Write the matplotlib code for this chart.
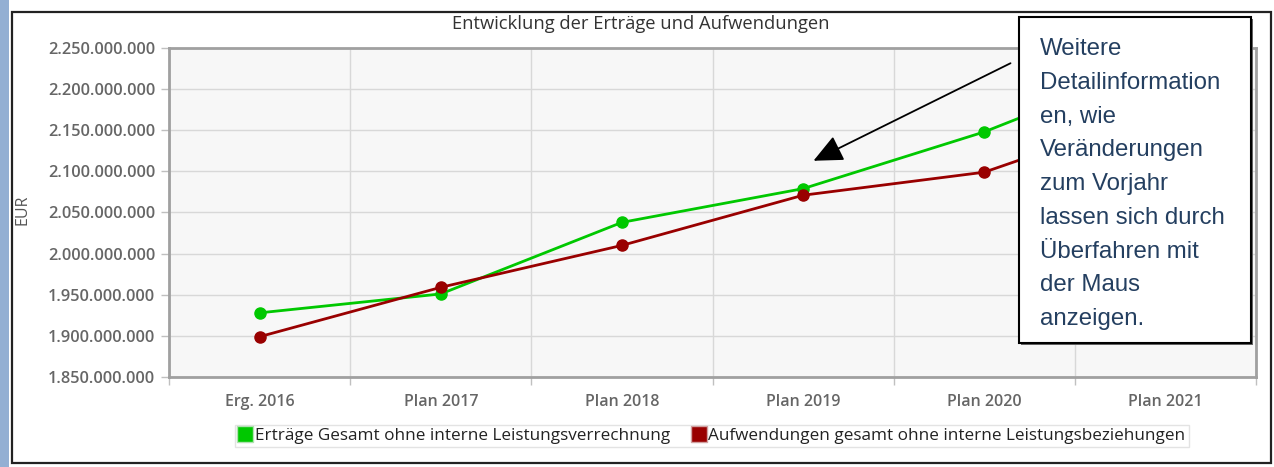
import matplotlib
matplotlib.use("Agg")
import matplotlib.pyplot as plt
from matplotlib.patches import Rectangle, FancyArrowPatch
from matplotlib.lines import Line2D
from matplotlib.ticker import FuncFormatter, MultipleLocator, FixedLocator

categories = ['Erg. 2016', 'Plan 2017', 'Plan 2018', 'Plan 2019', 'Plan 2020', 'Plan 2021']
ertraege = [1.928e9, 1.951e9, 2.038e9, 2.079e9, 2.148e9, 2.235e9]
aufwendungen = [1.899e9, 1.959e9, 2.010e9, 2.071e9, 2.099e9, 2.175e9]
series_names = ['Erträge Gesamt ohne interne Leistungsverrechnung',
                'Aufwendungen gesamt ohne interne Leistungsbeziehungen']
title = 'Entwicklung der Erträge und Aufwendungen'
y_label = 'EUR'
note_lines = ['Weitere', 'Detailinformation', 'en, wie', 'Veränderungen', 'zum Vorjahr',
              'lassen sich durch', 'Überfahren mit', 'der Maus', 'anzeigen.']

W, H = 1274, 467
fig = plt.figure(figsize=(W / 100, H / 100), dpi=100)
fig.patch.set_facecolor('white')

def fx(x):
    return x / W

def fy(y):
    return 1 - y / H

SANS = ['Open Sans', 'DejaVu Sans']

# left blue strip and outer frame
fig.add_artist(Rectangle((0, 0), fx(9), 1, transform=fig.transFigure,
                         facecolor='#93AFD3', edgecolor='none', zorder=0))
fig.add_artist(Rectangle((fx(12), fy(463)), fx(1271) - fx(12), fy(12) - fy(463),
                         transform=fig.transFigure, facecolor='none',
                         edgecolor='#222222', linewidth=1.6, zorder=0.5))

ax = fig.add_axes([fx(169), fy(377), fx(1256) - fx(169), fy(48) - fy(377)])
ax.set_facecolor('#F7F7F7')
x = list(range(len(categories)))

ax.plot(x, ertraege, color='#00C800', linewidth=2.0, marker='o', markersize=8,
        zorder=3, solid_capstyle='round')
ax.plot(x, aufwendungen, color='#990000', linewidth=2.0, marker='o', markersize=8,
        zorder=3, solid_capstyle='round')

ax.set_xlim(-0.5, len(categories) - 0.5)
ax.set_ylim(1.85e9, 2.25e9)
ax.yaxis.set_major_locator(MultipleLocator(5e7))
ax.yaxis.set_major_formatter(FuncFormatter(lambda v, p: f"{int(round(v)):,}".replace(',', '.')))
ax.set_xticks(x)
ax.set_xticklabels(categories)
ax.xaxis.set_minor_locator(FixedLocator([i - 0.5 for i in range(len(categories) + 1)]))
ax.tick_params(axis='x', which='major', length=0, pad=12, labelsize=11.5, labelcolor='#666666')
ax.tick_params(axis='x', which='minor', length=6, color='#C0C0C0', width=1)
ax.tick_params(axis='y', which='major', length=6, color='#C0C0C0', width=1, pad=4,
               labelsize=11.8, labelcolor='#666666')
for lab in ax.get_xticklabels() + ax.get_yticklabels():
    lab.set_family(SANS)
    lab.set_fontweight('semibold')

ax.grid(axis='y', which='major', color='#D8D8D8', linewidth=1)
ax.grid(axis='x', which='minor', color='#D8D8D8', linewidth=1)
ax.set_axisbelow(True)
for s in ax.spines.values():
    s.set_color('#A0A0A0')
    s.set_linewidth(2)

fig.text(fx(22), fy(210), y_label, rotation=90, ha='center', va='center',
         fontsize=11.5, color='#555555', family=SANS)
fig.text(fx(641), fy(24), title, ha='center', va='center', fontsize=13.2,
         color='#333333', family=SANS)

handles = [Line2D([], [], linestyle='none', marker='s', markersize=11,
                  markerfacecolor='#00C800', markeredgecolor='#B0E0B0'),
           Line2D([], [], linestyle='none', marker='s', markersize=11,
                  markerfacecolor='#990000', markeredgecolor='#D0A0A0')]
leg = fig.legend(handles, series_names, loc='center', bbox_to_anchor=(fx(712), fy(436)),
                 ncol=2, frameon=True, fancybox=False, edgecolor='#DDDDDD',
                 handlelength=0.8, handletextpad=0.15, columnspacing=1.3,
                 borderpad=0.2, prop={'family': SANS, 'size': 12.3})
leg.get_frame().set_linewidth(1)
for t in leg.get_texts():
    t.set_color('#222222')

# annotation box with shadow
bx0, by0, bx1, by1 = 1019, 17, 1251, 343
fig.add_artist(Rectangle((fx(bx0 + 2), fy(by1 + 2)), fx(bx1) - fx(bx0), fy(by0) - fy(by1),
                         transform=fig.transFigure, facecolor='#666666',
                         edgecolor='none', zorder=4))
fig.add_artist(Rectangle((fx(bx0), fy(by1)), fx(bx1) - fx(bx0), fy(by0) - fy(by1),
                         transform=fig.transFigure, facecolor='white',
                         edgecolor='black', linewidth=1.5, zorder=5))
for i, line in enumerate(note_lines):
    fig.text(fx(1040), fy(55 + 33.75 * i), line, ha='left', va='baseline',
             fontsize=17.3, color='#243F60', family=['Liberation Sans', 'DejaVu Sans'],
             zorder=6)

arrow = FancyArrowPatch((fx(1013), fy(62)), (fx(811), fy(162)), transform=fig.transFigure,
                        arrowstyle='-|>,head_length=1.2,head_width=0.55', mutation_scale=15,
                        color='black', linewidth=1.3, zorder=6)
fig.add_artist(arrow)

fig.savefig('out.png', dpi=100, facecolor='white')
